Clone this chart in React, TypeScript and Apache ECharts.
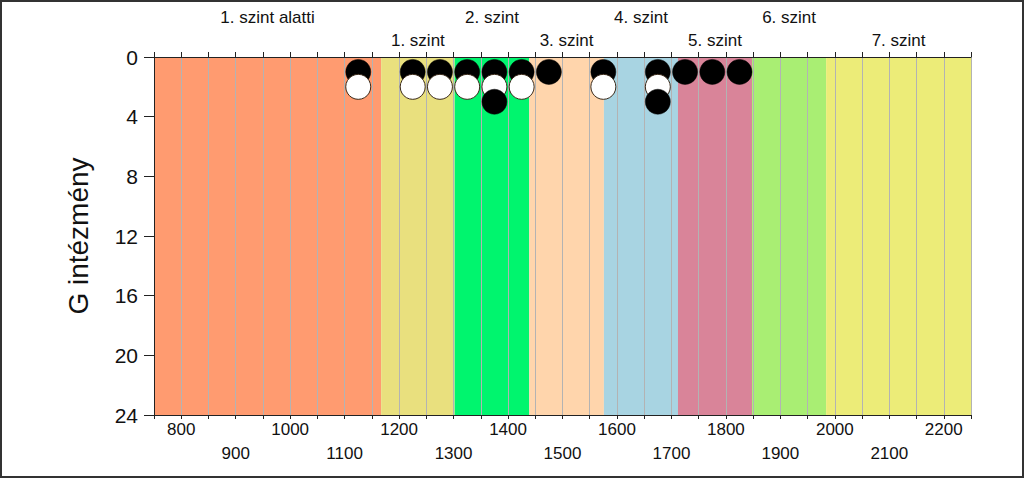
import React, { useEffect, useRef } from "react";
import * as echarts from "echarts";

const xMin = 750;
const xMax = 2250;
const xStep = 50;
const yMax = 24;
const yStep = 4;

const bandEdges = [750, 1167, 1302, 1439, 1576, 1712, 1848, 1984, 2250];
const bandNames = [
  "1. szint alatti",
  "1. szint",
  "2. szint",
  "3. szint",
  "4. szint",
  "5. szint",
  "6. szint",
  "7. szint",
];
const bandColors = [
  "#FF9B70",
  "#E9E07E",
  "#00F56E",
  "#FFD5AC",
  "#A8D4E2",
  "#D98499",
  "#A9EE73",
  "#ECEC78",
];

// dot-plot stacks: x = score bin centre, row = stack position
const row1Black = [1125, 1225, 1275, 1325, 1375, 1425, 1475, 1575, 1675, 1725, 1775, 1825];
const row2White = [1125, 1225, 1275, 1325, 1375, 1425, 1575, 1675];
const row3Black = [1375, 1675];

const yAxisName = "G intézmény";
const FONT = "'Liberation Sans', Arial, sans-serif";

export default function App() {
  const ref = useRef<HTMLDivElement>(null);

  useEffect(() => {
    if (!ref.current) return;
    const chart = echarts.init(ref.current, null, { renderer: "svg" });

    const bandData = bandNames.map((name, i) => [
      {
        xAxis: bandEdges[i],
        name,
        itemStyle: { color: bandColors[i], opacity: 1 },
        label: { distance: i % 2 === 0 ? 31 : 8 },
      },
      { xAxis: bandEdges[i + 1] },
    ]);

    const option: any = {
      animation: false,
      textStyle: { fontFamily: FONT },
      grid: { left: 154, right: 53, top: 57, bottom: 63, containLabel: false },
      graphic: [
        {
          type: "rect",
          shape: { x: 1, y: 1, width: 1022, height: 476 },
          style: { fill: "none", stroke: "#333", lineWidth: 2 },
          z: 10,
          silent: true,
        },
      ],
      xAxis: [
        {
          type: "value",
          position: "bottom",
          min: xMin,
          max: xMax,
          interval: xStep,
          z: 2,
          axisLine: { show: true, onZero: false, lineStyle: { color: "#222", width: 1 } },
          axisTick: { show: true, length: 4, inside: false, lineStyle: { color: "#222" } },
          splitLine: { show: true, lineStyle: { color: "#b3b3b3", width: 1 } },
          axisLabel: {
            color: "#111",
            fontSize: 17,
            fontFamily: FONT,
            margin: 2,
            lineHeight: 24,
            formatter: (v: number) =>
              v % 200 === 0 ? String(v) : v % 100 === 0 ? "\n" + v : "",
          },
        },
        {
          type: "value",
          position: "top",
          min: xMin,
          max: xMax,
          interval: xStep,
          z: 2,
          axisLine: { show: true, onZero: false, lineStyle: { color: "#222", width: 1 } },
          axisTick: { show: true, length: 5, inside: false, lineStyle: { color: "#222" } },
          splitLine: { show: false },
          axisLabel: { show: false },
        },
      ],
      yAxis: {
        type: "value",
        inverse: true,
        min: 0,
        max: yMax,
        interval: yStep,
        z: 2,
        name: yAxisName,
        nameLocation: "middle",
        nameRotate: 90,
        nameGap: 62,
        nameTextStyle: { fontSize: 28, color: "#111", fontFamily: FONT },
        axisLine: { show: true, lineStyle: { color: "#222", width: 1 } },
        axisTick: { show: true, length: 10, inside: false, lineStyle: { color: "#222" } },
        splitLine: { show: false },
        axisLabel: { color: "#111", fontSize: 21, margin: 16, fontFamily: FONT },
      },
      series: [
        {
          type: "scatter",
          name: "bands",
          data: [],
          z: 3,
          markArea: {
            z: 1,
            silent: true,
            label: {
              show: true,
              position: "top",
              color: "#111",
              fontSize: 17,
              fontFamily: FONT,
            },
            data: bandData,
          },
        },
        {
          type: "scatter",
          name: "row1",
          z: 3,
          symbol: "circle",
          symbolSize: 25,
          itemStyle: { color: "#000", borderColor: "#000", borderWidth: 0.5, opacity: 1 },
          data: row1Black.map((x) => [x, 1]),
        },
        {
          type: "scatter",
          name: "row2",
          z: 4,
          symbol: "circle",
          symbolSize: 25,
          itemStyle: { color: "#fff", borderColor: "#3a2a1a", borderWidth: 1, opacity: 1 },
          data: row2White.map((x) => [x, 2]),
        },
        {
          type: "scatter",
          name: "row3",
          z: 5,
          symbol: "circle",
          symbolSize: 25,
          itemStyle: { color: "#000", borderColor: "#000", borderWidth: 0.5, opacity: 1 },
          data: row3Black.map((x) => [x, 3]),
        },
      ],
    };

    chart.setOption(option);
    return () => chart.dispose();
  }, []);

  return (
    <div
      ref={ref}
      style={{
        position: "fixed",
        left: 0,
        top: 0,
        width: 1024,
        height: 478,
        background: "#fff",
      }}
    />
  );
}
